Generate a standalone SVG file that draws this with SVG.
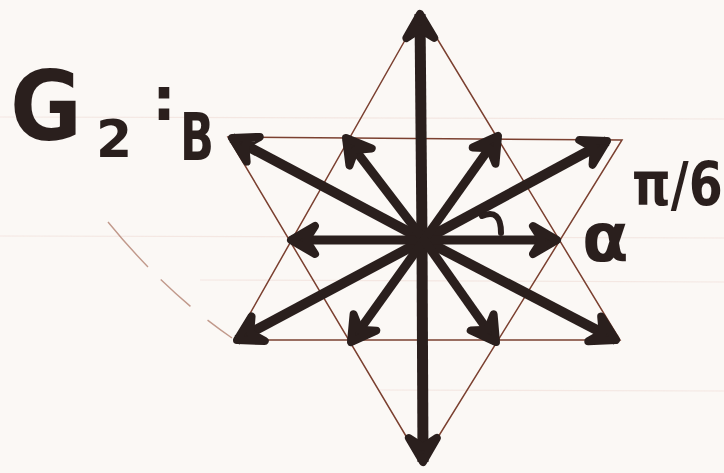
<svg xmlns="http://www.w3.org/2000/svg" width="724" height="473" viewBox="0 0 724 473">
<style>
.paper{fill:#fbf8f5}
.rule{stroke:#ecd2cb;stroke-width:1.2;opacity:.45;fill:none}
.thin{stroke:#7b4030;stroke-width:1.5;fill:none;stroke-linecap:round}
.faint{stroke:#a8705e;stroke-width:1.4;fill:none;opacity:.7;stroke-dasharray:60 18 40 22}
.root{stroke:#2a1f1d;stroke-width:9;fill:none;marker-end:url(#head)}
.long{stroke-width:10}
.axis{stroke-width:11}
.hand{fill:#2a1f1d;font-family:"DejaVu Sans",sans-serif;font-weight:bold}
.arc{stroke:#2a1f1d;stroke-width:6;fill:none;stroke-linecap:round}
</style>
<defs>
<marker id="head" markerUnits="userSpaceOnUse" orient="auto" refX="0" refY="0" markerWidth="60" markerHeight="60" viewBox="-40 -30 60 60" overflow="visible">
<path d="M-24,-14 L0,0 L-24,14 L-15,0 Z" fill="#2a1f1d" stroke="#2a1f1d" stroke-width="8" stroke-linejoin="round" stroke-linecap="round"/>
</marker>
</defs>
<rect class="paper" x="0" y="0" width="724" height="473"/>
<g id="ruling">
<line class="rule" x1="0" y1="117" x2="724" y2="119"/>
<line class="rule" x1="0" y1="236" x2="724" y2="238"/>
<line class="rule" x1="200" y1="280" x2="724" y2="282"/>
<line class="rule" x1="380" y1="390" x2="724" y2="391"/>
<path class="faint" d="M108,222 Q165,292 232,338"/>
</g>
<g id="hexagram">
<path class="thin" d="M421,12 L235,340 L620,340 Z"/>
<path class="thin" d="M228,137 L622,140 L422,463 Z"/>
</g>
<g id="roots">
<line class="root axis" x1="422" y1="240" x2="420" y2="14"/>
<line class="root axis" x1="422" y1="240" x2="423" y2="462"/>
<line class="root long" x1="424" y1="240" x2="232" y2="138"/>
<line class="root long" x1="424" y1="240" x2="607" y2="141"/>
<line class="root long" x1="424" y1="240" x2="237" y2="340"/>
<line class="root long" x1="424" y1="240" x2="616" y2="340"/>
<line class="root" x1="424" y1="240" x2="291" y2="240"/>
<line class="root" x1="424" y1="240" x2="557" y2="240"/>
<line class="root" x1="424" y1="240" x2="346" y2="138"/>
<line class="root" x1="424" y1="240" x2="498" y2="136"/>
<line class="root" x1="424" y1="240" x2="351" y2="342"/>
<line class="root" x1="424" y1="240" x2="496" y2="342"/>
<path class="arc" d="M482,216 Q501,208 501,233"/>
</g>
<g id="labels">
<text class="hand" x="10" y="140" font-size="96" textLength="72" lengthAdjust="spacingAndGlyphs">G</text>
<text class="hand" x="96" y="157" font-size="52">2</text>
<text class="hand" x="152" y="120" font-size="60">:</text>
<text class="hand" x="180" y="160" font-size="66" textLength="34" lengthAdjust="spacingAndGlyphs">B</text>
<text class="hand" transform="translate(632,205) scale(1,1.25)" x="0" y="0" font-size="49">π/6</text>
<text class="hand" x="582" y="261" font-size="68">α</text>
</g>
</svg>
